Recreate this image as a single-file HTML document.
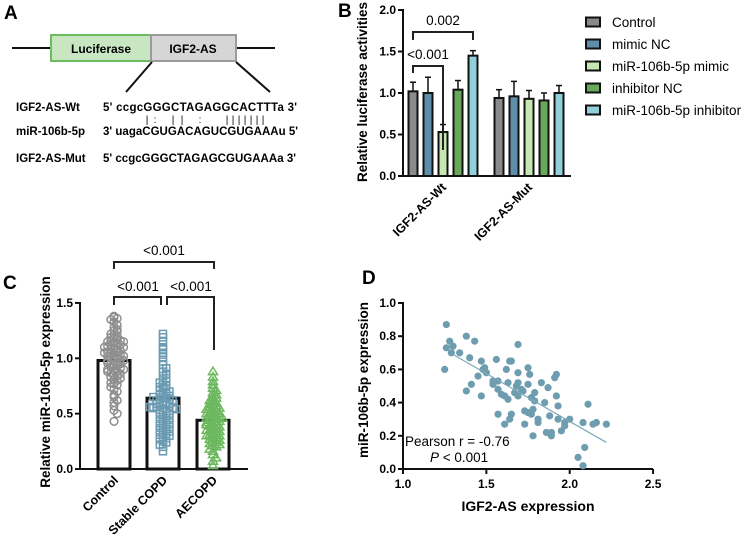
<!DOCTYPE html>
<html><head><meta charset="utf-8"><style>
body{margin:0;background:#fff}
svg{display:block;font-family:"Liberation Sans",Arial,sans-serif}
.b{font-weight:bold}
</style></head><body>
<svg id="s" width="744" height="542" viewBox="0 0 744 542">
<g>
<text x="4" y="19" font-size="19" class="b">A</text>
<line x1="12" y1="48" x2="51" y2="48" stroke="#111" stroke-width="2"/>
<line x1="236" y1="48" x2="275" y2="48" stroke="#111" stroke-width="2"/>
<rect x="51" y="35" width="100" height="26" fill="#c9e6c2" stroke="#6dbb5f" stroke-width="2"/>
<rect x="151" y="35" width="85" height="26" fill="#d6d6d6" stroke="#9a9a9a" stroke-width="2"/>
<text x="101" y="53" font-size="12" class="b" text-anchor="middle">Luciferase</text>
<text x="193" y="53" font-size="12" class="b" text-anchor="middle">IGF2-AS</text>
<line x1="152" y1="62" x2="126" y2="92" stroke="#111" stroke-width="2"/>
<line x1="236" y1="62" x2="270" y2="92" stroke="#111" stroke-width="2"/>
<g font-size="11.5" class="b">
<text x="16" y="111">IGF2-AS-Wt</text>
<text x="16" y="135">miR-106b-5p</text>
<text x="16" y="162">IGF2-AS-Mut</text>
</g>
<g font-size="11.5" font-weight="600">
<text x="103" y="111" textLength="194">5' ccgcGGGCTAGAGGCACTTTa 3'</text>
<g id="pairs" font-size="10" font-weight="normal" text-anchor="middle"></g>
<text x="103" y="135" textLength="195">3' uagaCGUGACAGUCGUGAAAu 5'</text>
<text x="103" y="162" textLength="193">5' ccgcGGGCTAGAGCGUGAAAa 3'</text>
</g>
</g>
<g id="pb">
<text x="338" y="17" font-size="19" class="b">B</text>
<text transform="translate(367,92) rotate(-90)" font-size="13.5" class="b" text-anchor="middle">Relative luciferase activities</text>
</g>
<g id="pc">
<text x="3" y="289" font-size="19" class="b">C</text>
<text transform="translate(50,382) rotate(-90)" font-size="13.5" class="b" text-anchor="middle">Relative miR-106b-5p expression</text>
</g>
<g id="pd">
<text x="362" y="284" font-size="19" class="b">D</text>
<text transform="translate(368,380) rotate(-90)" font-size="13.5" class="b" text-anchor="middle">miR-106b-5p expression</text>
<text x="528" y="511" font-size="14" class="b" text-anchor="middle">IGF2-AS expression</text>
</g>
</svg>
<script>
// Panel B data
const bGroups=["IGF2-AS-Wt","IGF2-AS-Mut"];
const bSeries=["Control","mimic NC","miR-106b-5p mimic","inhibitor NC","miR-106b-5p inhibitor"];
const bWt=[1.02,1.00,0.53,1.04,1.45];
const bWtErr=[0.11,0.19,0.09,0.11,0.06];
const bMut=[0.94,0.96,0.93,0.91,1.00];
const bMutErr=[0.10,0.18,0.10,0.09,0.09];
const bTicks=[0,0.5,1.0,1.5,2.0];
// Panel C data
const cGroups=["Control","Stable COPD","AECOPD"];
const cMeans=[0.98,0.64,0.44];
const cControl=[1.38,1.37,1.36,1.35,1.33,1.30,1.28,1.26,1.25,1.24,1.22,1.21,1.20,1.19,1.18,1.17,1.16,1.16,1.15,1.14,1.13,1.12,1.12,1.11,1.10,1.10,1.09,1.08,1.08,1.07,1.06,1.05,1.05,1.04,1.03,1.02,1.02,1.01,1.00,1.00,0.99,0.98,0.98,0.97,0.96,0.95,0.95,0.94,0.93,0.92,0.91,0.90,0.90,0.89,0.88,0.87,0.86,0.85,0.84,0.83,0.82,0.81,0.80,0.78,0.77,0.76,0.74,0.72,0.70,0.67,0.65,0.62,0.60,0.57,0.53,0.50,0.43,1.15,1.05,0.96,0.88];
const cStable=[1.22,1.19,1.15,1.10,1.08,1.05,1.01,0.97,0.94,0.91,0.88,0.86,0.84,0.82,0.80,0.79,0.78,0.76,0.75,0.74,0.73,0.72,0.71,0.70,0.69,0.68,0.67,0.66,0.65,0.64,0.63,0.63,0.62,0.61,0.60,0.60,0.59,0.58,0.58,0.57,0.57,0.56,0.55,0.55,0.54,0.53,0.52,0.51,0.50,0.49,0.48,0.47,0.46,0.45,0.44,0.43,0.42,0.41,0.40,0.39,0.38,0.37,0.36,0.35,0.34,0.33,0.32,0.31,0.30,0.29,0.28,0.27,0.25,0.24,0.22,0.20,0.16,0.62,0.59,0.56,0.65];
const cAecopd=[0.88,0.83,0.79,0.76,0.73,0.71,0.69,0.67,0.65,0.64,0.62,0.61,0.60,0.59,0.58,0.57,0.56,0.55,0.54,0.53,0.52,0.51,0.50,0.49,0.48,0.48,0.47,0.46,0.45,0.45,0.44,0.43,0.42,0.41,0.40,0.39,0.38,0.37,0.36,0.35,0.34,0.33,0.32,0.31,0.30,0.29,0.28,0.27,0.26,0.25,0.24,0.23,0.22,0.21,0.20,0.18,0.16,0.13,0.10,0.07,0.03,0.50,0.46,0.40,0.35,0.30];
const cTicks=[0,0.5,1.0,1.5];
// Panel D data
const dX=[1.26,1.26,1.28,1.30,1.29,1.34,1.25,1.38,1.43,1.40,1.38,1.41,1.45,1.47,1.49,1.48,1.50,1.47,1.56,1.54,1.54,1.57,1.57,1.59,1.57,1.61,1.63,1.62,1.63,1.64,1.65,1.61,1.64,1.65,1.69,1.69,1.67,1.68,1.69,1.71,1.69,1.72,1.75,1.76,1.75,1.73,1.75,1.77,1.79,1.79,1.78,1.77,1.73,1.78,1.81,1.81,1.83,1.87,1.85,1.88,1.86,1.89,1.89,1.91,1.92,1.92,1.93,1.93,1.95,1.97,1.97,2.00,2.05,2.08,2.09,2.08,2.11,2.14,2.16,2.22];
const dY=[0.87,0.73,0.77,0.74,0.70,0.70,0.60,0.80,0.77,0.67,0.47,0.51,0.56,0.65,0.61,0.60,0.58,0.44,0.66,0.53,0.51,0.53,0.48,0.45,0.33,0.44,0.42,0.60,0.52,0.65,0.65,0.27,0.30,0.33,0.75,0.58,0.46,0.50,0.52,0.48,0.44,0.47,0.61,0.57,0.51,0.35,0.34,0.43,0.46,0.41,0.36,0.33,0.27,0.20,0.30,0.28,0.52,0.49,0.40,0.32,0.22,0.22,0.20,0.55,0.57,0.44,0.38,0.30,0.23,0.26,0.28,0.30,0.07,0.02,0.13,0.28,0.39,0.27,0.28,0.27];
const dFitX=[1.30,2.22];
const dFitY=[0.69,0.16];
const dXTicks=[1.0,1.5,2.0,2.5];
const dYTicks=[0,0.2,0.4,0.6,0.8,1.0];

const NS="http://www.w3.org/2000/svg";
function mk(parent,tag,attrs,txt){const e=document.createElementNS(NS,tag);for(const k in attrs)e.setAttribute(k,attrs[k]);if(txt!==undefined)e.textContent=txt;parent.appendChild(e);return e;}
const fmt=v=>v.toFixed(1);

// pairing marks
const pg=document.getElementById('pairs');
[[147,'|'],[155,':'],[173,'|'],[182,'|'],[200,':'],[227,'|'],[233,'|'],[239,'|'],[245,'|'],[251,'|'],[257,'|'],[263,'|']].forEach(p=>{
let t=mk(pg,'text',{x:p[0],y:123},p[1]);

});

// ---------- Panel B ----------
const pb=document.getElementById('pb');
const byS=v=>176-83*v;
const colors=["#8a8a8a","#5f8fa8","#c6e6b2","#68a85a","#8fd0da"];
const gx0=[413,499];
let ax=mk(pb,'line',{x1:403,y1:byS(2)-1,x2:403,y2:177,stroke:'#111','stroke-width':2});

ax=mk(pb,'line',{x1:402,y1:176,x2:571,y2:176,stroke:'#111','stroke-width':2});

bTicks.forEach(t=>{let l=mk(pb,'line',{x1:398,y1:byS(t),x2:403,y2:byS(t),stroke:'#111','stroke-width':2});

let tx=mk(pb,'text',{x:396,y:byS(t)+4,'font-size':12,'font-weight':'bold','text-anchor':'end'},fmt(t));
});
[bWt,bMut].forEach((vals,g)=>{const errs=g?bMutErr:bWtErr;
vals.forEach((v,i)=>{const cx=gx0[g]+15*i;
let e=mk(pb,'line',{x1:cx,y1:byS(v),x2:cx,y2:byS(v+errs[i]),stroke:'#111','stroke-width':1.5});

let c=mk(pb,'line',{x1:cx-3,y1:byS(v+errs[i]),x2:cx+3,y2:byS(v+errs[i]),stroke:'#111','stroke-width':1.5});

let r=mk(pb,'rect',{x:cx-4.5,y:byS(v),width:9,height:176-byS(v),fill:colors[i],stroke:'#111','stroke-width':2});
});
let t=mk(pb,'text',{'font-size':12.5,'font-weight':'bold','text-anchor':'end',transform:`translate(${gx0[g]+34},188) rotate(-45)`},bGroups[g]);
});
let br=mk(pb,'path',{d:`M413,40 V32 H473 V40`,fill:'none',stroke:'#222','stroke-width':2});

let bt=mk(pb,'text',{x:443,y:25,'font-size':13.5,'text-anchor':'middle'},'0.002');

br=mk(pb,'path',{d:`M413,73 V66 H443 V150`,fill:'none',stroke:'#222','stroke-width':2});

bt=mk(pb,'text',{x:428,y:59,'font-size':13.5,'text-anchor':'middle'},'<0.001');

bSeries.forEach((s,i)=>{const y=22+22*i;
let r=mk(pb,'rect',{x:586,y:y-4.5,width:14,height:9,fill:colors[i],stroke:'#111','stroke-width':2});

let t=mk(pb,'text',{x:612,y:y+5,'font-size':13.5},s);
});

// ---------- Panel C ----------
const pc=document.getElementById('pc');
const cyS=v=>469-110.7*v;
const cx=[114,163,213];
ax=mk(pc,'line',{x1:80,y1:cyS(1.5)-1,x2:80,y2:470,stroke:'#111','stroke-width':2});

ax=mk(pc,'line',{x1:79,y1:469,x2:248,y2:469,stroke:'#111','stroke-width':2});

cTicks.forEach(t=>{let l=mk(pc,'line',{x1:75,y1:cyS(t),x2:80,y2:cyS(t),stroke:'#111','stroke-width':2});

let tx=mk(pc,'text',{x:73,y:cyS(t)+4,'font-size':12,'font-weight':'bold','text-anchor':'end'},fmt(t));
});
const cCols=["#8f8f8f","#6a9bb2","#6cb85e"];
[cControl,cStable,cAecopd].forEach((vals,g)=>{
let r=mk(pc,'rect',{x:cx[g]-16,y:cyS(cMeans[g]),width:32,height:469-cyS(cMeans[g]),fill:'none',stroke:'#111','stroke-width':3});

const bins={};
vals.forEach(v=>{const b=Math.round(v/0.04);bins[b]=(bins[b]||0)+1;const k=bins[b]-1;
const off=(k%2?1:-1)*Math.ceil(k/2)*3.2;const x=cx[g]+off,y=cyS(v);let m;
if(g===0){m=mk(pc,'circle',{cx:x,cy:y,r:3.8,fill:'none',stroke:cCols[0],'stroke-width':1.5});}
else if(g===1){m=mk(pc,'rect',{x:x-3.5,y:y-3.5,width:7,height:7,fill:'none',stroke:cCols[1],'stroke-width':1.5});}
else{m=mk(pc,'path',{d:`M${x},${y-4.5} L${x+4.5},${y+3} L${x-4.5},${y+3} Z`,fill:'none',stroke:cCols[2],'stroke-width':1.5});}
});
let t=mk(pc,'text',{'font-size':12.5,'font-weight':'bold','text-anchor':'end',transform:`translate(${cx[g]+5},481) rotate(-45)`},cGroups[g]);
});
[[`M114,269 V262 H214 V269`,'<0.001',164,250],[`M114,305 V297 H161 V305`,'<0.001',138,286],[`M167,305 V297 H214 V350`,'<0.001',191,286]].forEach((b,i)=>{
let p=mk(pc,'path',{d:b[0],fill:'none',stroke:'#222','stroke-width':2});

let t=mk(pc,'text',{x:b[2],y:b[3]+5,'font-size':13.5,'text-anchor':'middle'},b[1]);
});

// ---------- Panel D ----------
const pd=document.getElementById('pd');
const dxS=v=>403+(v-1)*166.7, dyS=v=>469-166*v;
ax=mk(pd,'line',{x1:403,y1:dyS(1)-1,x2:403,y2:470,stroke:'#111','stroke-width':2});

ax=mk(pd,'line',{x1:402,y1:469,x2:653,y2:469,stroke:'#111','stroke-width':2});

dYTicks.forEach(t=>{let l=mk(pd,'line',{x1:398,y1:dyS(t),x2:403,y2:dyS(t),stroke:'#111','stroke-width':2});

let tx=mk(pd,'text',{x:396,y:dyS(t)+4,'font-size':12,'font-weight':'bold','text-anchor':'end'},fmt(t));
});
dXTicks.forEach(t=>{let l=mk(pd,'line',{x1:dxS(t),y1:469,x2:dxS(t),y2:474,stroke:'#111','stroke-width':2});

let tx=mk(pd,'text',{x:dxS(t),y:488,'font-size':12,'font-weight':'bold','text-anchor':'middle'},fmt(t));
});
dX.forEach((x,i)=>{let c=mk(pd,'circle',{cx:dxS(x),cy:dyS(dY[i]),r:3.6,fill:'#6e9db0'});
});
let fl=mk(pd,'line',{x1:dxS(dFitX[0]),y1:dyS(dFitY[0]),x2:dxS(dFitX[1]),y2:dyS(dFitY[1]),stroke:'#7fa9bb','stroke-width':1.2});

let pt=mk(pd,'text',{x:405,y:446,'font-size':13.5},'Pearson r = -0.76');

pt=mk(pd,'text',{x:430,y:462,'font-size':13.5},'');

mk(pt,'tspan',{'font-style':'italic'},'P');mk(pt,'tspan',{},' < 0.001');
</script>
</body></html>
